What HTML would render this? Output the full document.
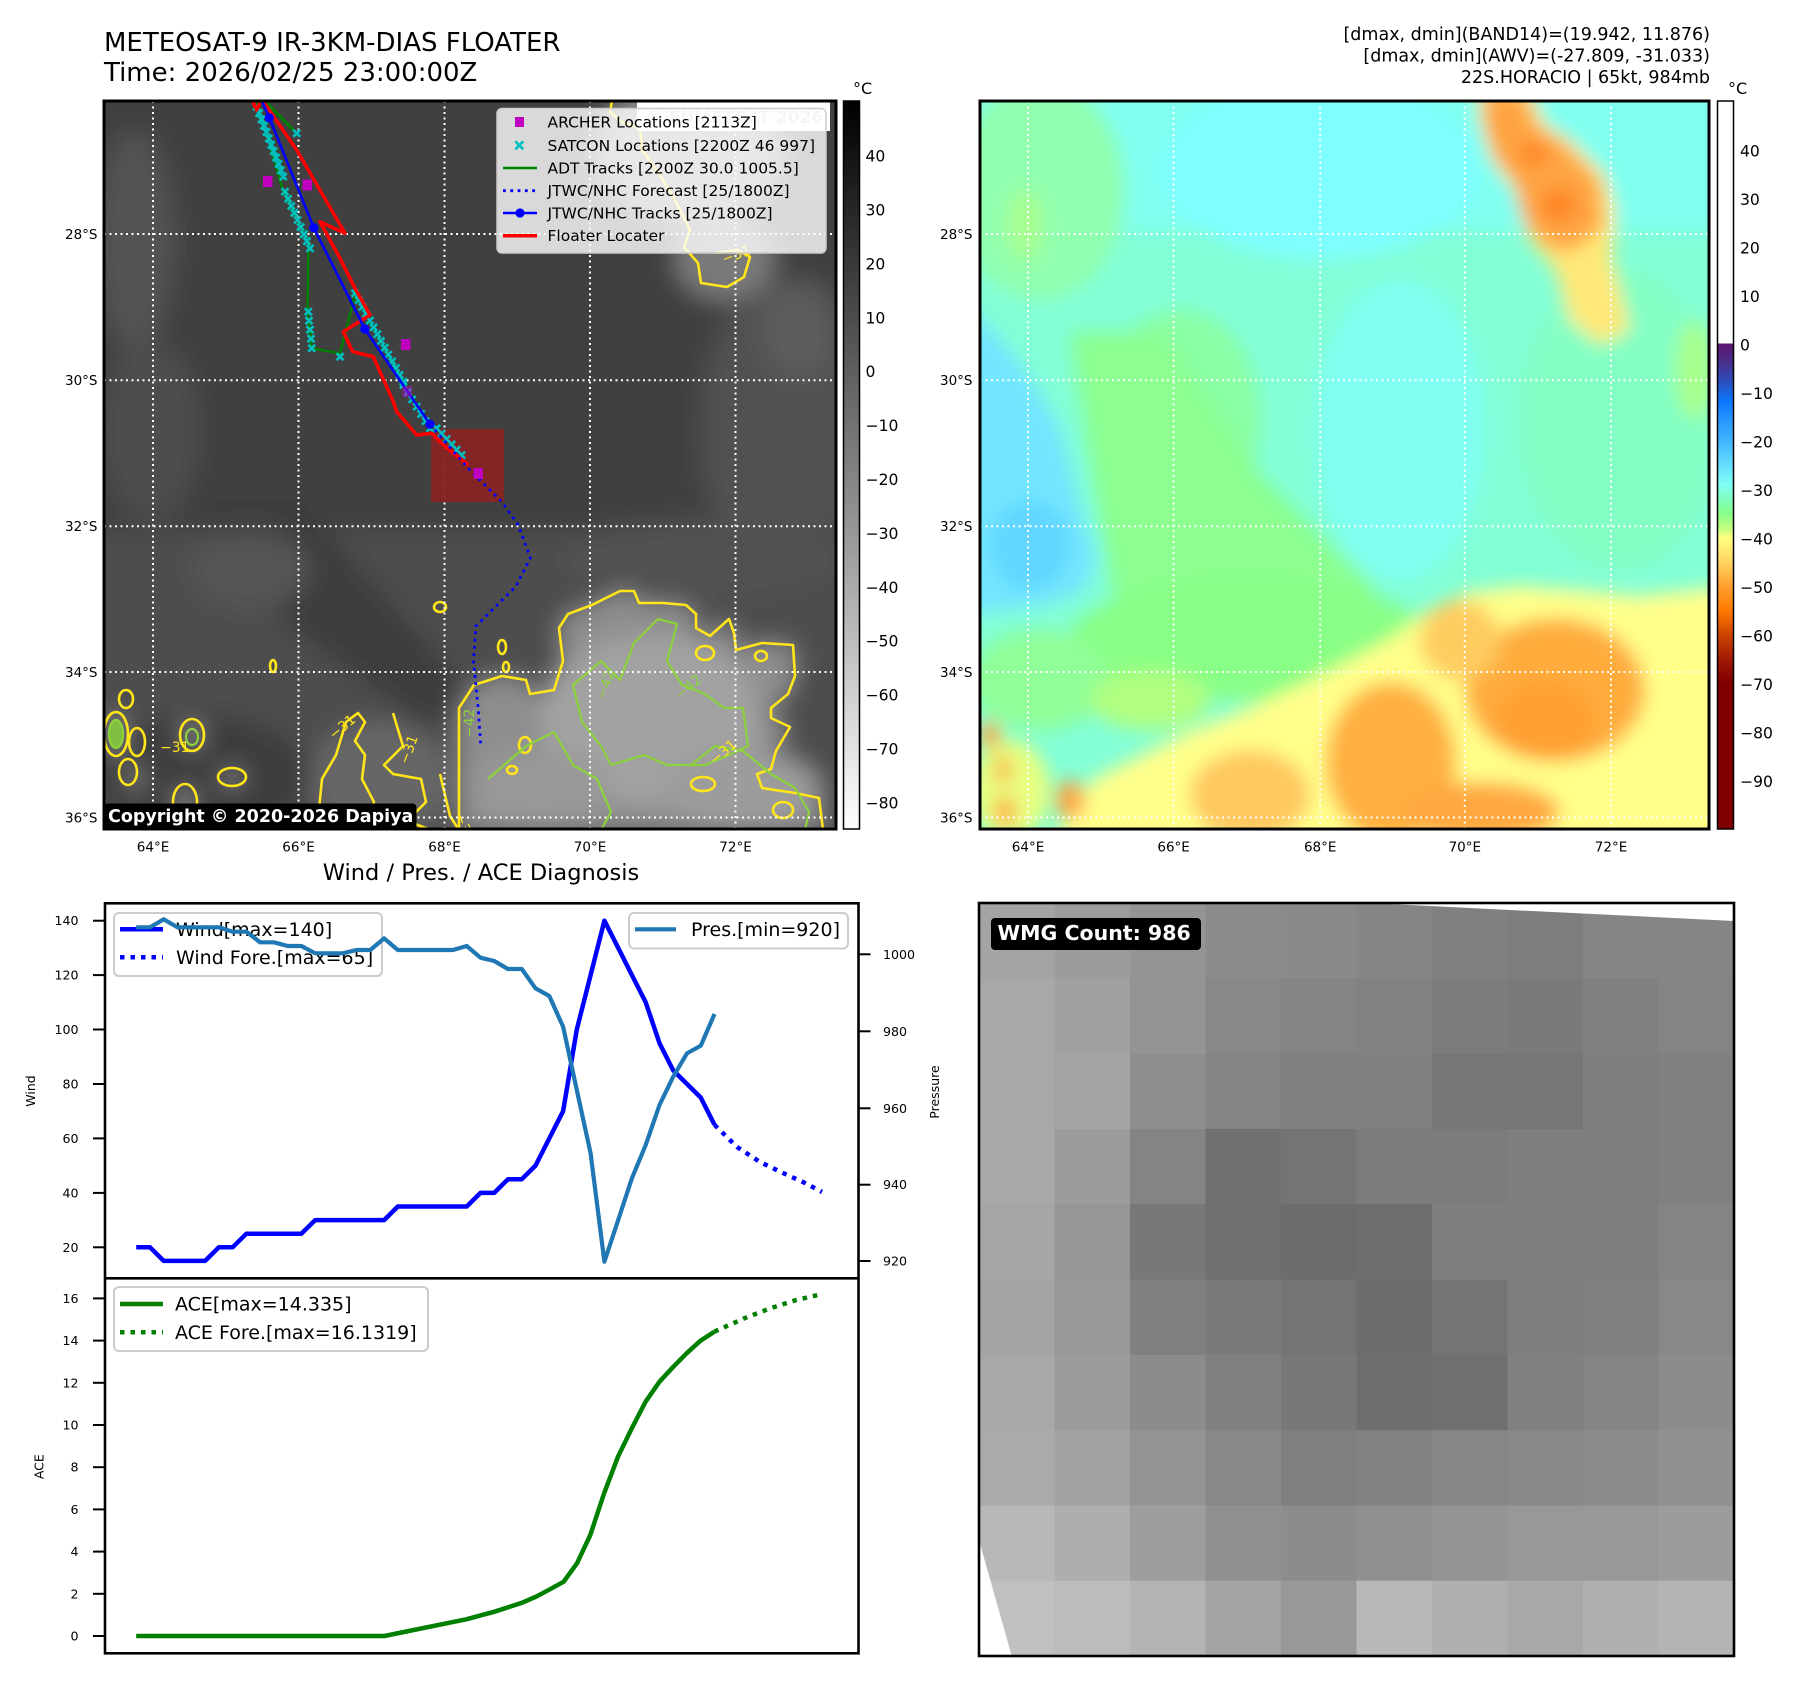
<!DOCTYPE html>
<html><head><meta charset="utf-8"><style>
html,body{margin:0;padding:0;background:#fff;}
svg{display:block;}
text{font-family:"DejaVu Sans","Liberation Sans",sans-serif;}
</style></head><body>
<svg width="1797" height="1690" viewBox="0 0 1797 1690" xmlns="http://www.w3.org/2000/svg">
<defs>
<clipPath id="cL"><rect x="104" y="101" width="732" height="728"/></clipPath>
<clipPath id="cR"><rect x="980" y="101" width="729" height="728"/></clipPath>
<clipPath id="cW"><rect x="979" y="903" width="755" height="753"/></clipPath>
<filter id="bl" filterUnits="userSpaceOnUse" x="0" y="0" width="1797" height="1690"><feGaussianBlur stdDeviation="12"/></filter>
<filter id="bl2" filterUnits="userSpaceOnUse" x="0" y="0" width="1797" height="1690"><feGaussianBlur stdDeviation="9"/></filter>
<linearGradient id="gGray" x1="0" y1="0" x2="0" y2="1"><stop offset="0" stop-color="#000"/><stop offset="1" stop-color="#fff"/></linearGradient>
<linearGradient id="gAwv" x1="0" y1="0" x2="0" y2="1">
<stop offset="0" stop-color="#fff"/><stop offset="0.3333" stop-color="#fff"/>
<stop offset="0.3334" stop-color="#5c1470"/><stop offset="0.36" stop-color="#48308c"/>
<stop offset="0.3867" stop-color="#2a50c0"/><stop offset="0.4133" stop-color="#0a78ff"/>
<stop offset="0.44" stop-color="#2a98ff"/><stop offset="0.4667" stop-color="#40b4ff"/>
<stop offset="0.5" stop-color="#66dcff"/><stop offset="0.5267" stop-color="#80fff4"/>
<stop offset="0.5467" stop-color="#80ffc0"/><stop offset="0.5667" stop-color="#86ff88"/>
<stop offset="0.5867" stop-color="#c0ff80"/><stop offset="0.6" stop-color="#ffff80"/>
<stop offset="0.6333" stop-color="#ffd460"/><stop offset="0.6667" stop-color="#ffa030"/>
<stop offset="0.7" stop-color="#ff7a00"/><stop offset="0.7333" stop-color="#cc4400"/>
<stop offset="0.7667" stop-color="#a01a06"/><stop offset="0.8" stop-color="#800000"/>
<stop offset="1" stop-color="#800000"/>
</linearGradient>
</defs>

<!-- Titles -->
<text x="104" y="51" font-size="26">METEOSAT-9 IR-3KM-DIAS FLOATER</text>
<text x="104" y="81" font-size="26">Time: 2026/02/25 23:00:00Z</text>
<text x="1710" y="40" font-size="17.5" text-anchor="end">[dmax, dmin](BAND14)=(19.942, 11.876)</text>
<text x="1710" y="61.5" font-size="17.5" text-anchor="end">[dmax, dmin](AWV)=(-27.809, -31.033)</text>
<text x="1710" y="83" font-size="17.5" text-anchor="end">22S.HORACIO | 65kt, 984mb</text>

<!-- ============ LEFT MAP (IR) ============ -->
<g clip-path="url(#cL)">
<rect x="104" y="101" width="732" height="728" fill="#464646"/>
<g filter="url(#bl)">
<rect x="60" y="60" width="820" height="470" fill="#414141"/>
<ellipse cx="135" cy="240" rx="40" ry="110" fill="#525252"/>
<ellipse cx="150" cy="430" rx="50" ry="90" fill="#4e4e4e"/>
<ellipse cx="780" cy="430" rx="80" ry="150" fill="#515151"/>
<ellipse cx="800" cy="330" rx="40" ry="50" fill="#5c5c5c"/>
<ellipse cx="690" cy="150" rx="95" ry="70" fill="#8a8a8a"/>
<ellipse cx="725" cy="260" rx="50" ry="40" fill="#7a7a7a"/>
<rect x="60" y="530" width="820" height="320" fill="#4e4e4e"/>
<polygon points="200,500 300,500 470,690 430,730 280,620" fill="#3d3d3d"/>
<ellipse cx="250" cy="570" rx="60" ry="40" fill="#545454"/>
<ellipse cx="200" cy="775" rx="110" ry="60" fill="#3c3c3c"/>
<ellipse cx="380" cy="780" rx="70" ry="60" fill="#666666"/>
<ellipse cx="700" cy="560" rx="140" ry="40" fill="#515151"/>
<path d="M459,830 L459,708 L474,685 L502,676 L526,680 L530,694 L554,690 L563,661 L559,628 L568,614 L592,605 L620,591 L634,591 L639,603 L663,603 L686,605 L696,614 L696,628 L710,636 L729,619 L734,633 L736,650 L762,643 L793,645 L795,676 L788,694 L771,708 L771,718 L790,727 L776,751 L771,769 L757,774 L762,788 L795,793 L819,798 L823,830 Z" fill="#8e8e8e"/>
<ellipse cx="650" cy="720" rx="110" ry="85" fill="#a2a2a2"/>
<ellipse cx="740" cy="790" rx="80" ry="40" fill="#9c9c9c"/>
<ellipse cx="540" cy="790" rx="70" ry="40" fill="#989898"/>
<ellipse cx="116" cy="734" rx="10" ry="20" fill="#8a8a8a"/>
<ellipse cx="135" cy="778" rx="8" ry="15" fill="#808080"/>
<ellipse cx="192" cy="735" rx="10" ry="15" fill="#858585"/>
<ellipse cx="232" cy="778" rx="13" ry="8" fill="#858585"/>
<ellipse cx="185" cy="805" rx="10" ry="18" fill="#858585"/>
</g>

<!-- contours -->
<g fill="none" stroke="#ffe51a" stroke-width="2.6" stroke-linejoin="round">
<path d="M459,830 L459,708 L474,685 L502,676 L526,680 L530,694 L554,690 L563,661 L559,628 L568,614 L592,605 L620,591 L634,591 L639,603 L663,603 L686,605 L696,614 L696,628 L710,636 L729,619 L734,633 L736,650 L762,643 L793,645 L795,676 L788,694 L771,708 L771,718 L790,727 L776,751 L771,769 L757,774 L762,788 L795,793 L819,798 L823,830"/>
<ellipse cx="440" cy="607" rx="6" ry="5"/>
<ellipse cx="502" cy="647" rx="4" ry="7"/>
<ellipse cx="506" cy="667" rx="3" ry="5"/>
<ellipse cx="273" cy="666" rx="3" ry="6"/>
<ellipse cx="705" cy="653" rx="9" ry="7"/>
<ellipse cx="761" cy="656" rx="6" ry="5"/>
<ellipse cx="116" cy="734" rx="12" ry="22"/>
<ellipse cx="137" cy="742" rx="8" ry="14"/>
<ellipse cx="128" cy="772" rx="9" ry="13"/>
<ellipse cx="192" cy="735" rx="12" ry="16"/>
<ellipse cx="232" cy="777" rx="14" ry="9"/>
<ellipse cx="185" cy="802" rx="12" ry="18"/>
<ellipse cx="150" cy="817" rx="10" ry="12"/>
<ellipse cx="126" cy="699" rx="7" ry="9"/>
<ellipse cx="703" cy="784" rx="12" ry="7"/>
<ellipse cx="783" cy="810" rx="10" ry="8"/>
<ellipse cx="525" cy="745" rx="6" ry="8"/>
<ellipse cx="512" cy="770" rx="5" ry="4"/>
<path d="M317,830 L322,779 L336,755 L346,722 L358,713 L365,722 L355,741 L365,755 L362,779 L374,802 L365,830"/>
<path d="M393,713 L403,746 L384,765 L393,774 L421,779 L426,802 L407,821 L431,830"/>
<path d="M440,774 L450,816 L459,830"/>
<path d="M612,101 L610,112 L622,122 L640,128 L642,150 L660,175 L675,200 L690,230 L684,247 L698,263 L701,283 L727,287 L744,277 L750,257 L738,250 L716,253"/>
</g>
<g fill="none" stroke="#8cd23c" stroke-width="2.2" stroke-linejoin="round">
<path d="M573,685 L601,661 L620,680 L634,643 L658,619 L677,624 L667,661 L682,685 L705,694 L724,708 L743,708 L748,746 L729,755 L705,765 L667,765 L644,755 L611,765 L601,746 L582,722 Z"/>
<path d="M488,779 L526,746 L554,732 L573,765 L597,779 L611,812 L601,830"/>
<path d="M691,765 L715,746 L743,751 L771,774 L795,788 L809,812 L805,830"/>
<ellipse cx="116" cy="734" rx="7" ry="14" fill="#7fbf3f"/>
<ellipse cx="192" cy="737" rx="6" ry="8"/>
</g>
<g font-size="14" fill="#ffe51a">
<text x="334" y="740" transform="rotate(-40 334 740)">−31</text>
<text x="160" y="752">−31</text>
<text x="408" y="765" transform="rotate(-70 408 765)">−31</text>
<text x="715" y="765" transform="rotate(-40 715 765)">−31</text>
<text x="724" y="264" transform="rotate(-20 724 264)">−31</text>
<text x="455" y="815" transform="rotate(70 455 815)">−31</text>
</g>
<g font-size="14" fill="#8cd23c">
<text x="474" y="738" transform="rotate(-90 474 738)">−42</text>
<text x="605" y="700" transform="rotate(-70 605 700)">−42</text>
<text x="680" y="700" transform="rotate(-40 680 700)">−42</text>
</g>

<!-- gridlines -->
<g stroke="#fff" stroke-width="2" stroke-dasharray="2 3.5">
<line x1="153" y1="101" x2="153" y2="829"/><line x1="298.5" y1="101" x2="298.5" y2="829"/>
<line x1="444.5" y1="101" x2="444.5" y2="829"/><line x1="590" y1="101" x2="590" y2="829"/>
<line x1="735.5" y1="101" x2="735.5" y2="829"/>
<line x1="104" y1="234" x2="836" y2="234"/><line x1="104" y1="380.3" x2="836" y2="380.3"/>
<line x1="104" y1="526.2" x2="836" y2="526.2"/><line x1="104" y1="672" x2="836" y2="672"/>
<line x1="104" y1="817.5" x2="836" y2="817.5"/>
</g>

<!-- floater rect -->
<rect x="431" y="429" width="73" height="73" fill="#882424" opacity="0.95"/>

<!-- tracks -->
<g fill="none" stroke-linejoin="round">
<path d="M263,99 L295,131.7" stroke="#008000" stroke-width="3"/>
<path d="M257,101 L283.3,191.7 L308.3,241.7 L308.3,251.7 L307.5,311.7 L311.7,348.3 L340,353.3 L346,330 L355,295 L403.3,381.7 L432,430" stroke="#008000" stroke-width="2.5"/>
</g>
<path fill="none" stroke="#00bfbf" stroke-width="2.6" d="
M253.2,103.2l7,7m0,-7l-7,7 M255.6,109.6l7,7m0,-7l-7,7 M258,115.9l7,7m0,-7l-7,7 M260.5,122.3l7,7m0,-7l-7,7
M262.9,128.6l7,7m0,-7l-7,7 M265.3,135l7,7m0,-7l-7,7 M267.7,141.4l7,7m0,-7l-7,7 M270.1,147.7l7,7m0,-7l-7,7
M272.6,154.1l7,7m0,-7l-7,7 M275,160.4l7,7m0,-7l-7,7 M277.4,166.8l7,7m0,-7l-7,7 M279.8,173.2l7,7m0,-7l-7,7
M281.5,188.2l7,7m0,-7l-7,7 M284.6,195.3l7,7m0,-7l-7,7 M287.8,202.4l7,7m0,-7l-7,7 M290.9,209.4l7,7m0,-7l-7,7
M294,216.5l7,7m0,-7l-7,7 M297.1,223.6l7,7m0,-7l-7,7 M300.3,230.7l7,7m0,-7l-7,7 M303.4,237.7l7,7m0,-7l-7,7
M306.5,244.8l7,7m0,-7l-7,7
M304.8,308.2l7,7m0,-7l-7,7 M305.5,317.2l7,7m0,-7l-7,7 M306.5,326.2l7,7m0,-7l-7,7 M307.5,335.2l7,7m0,-7l-7,7
M308.2,344.8l7,7m0,-7l-7,7 M336.5,353.2l7,7m0,-7l-7,7 M293.2,129.8l7,7m0,-7l-7,7
M351.5,289.8l7,7m0,-7l-7,7 M355.2,296.6l7,7m0,-7l-7,7 M358.9,303.4l7,7m0,-7l-7,7 M362.6,310.2l7,7m0,-7l-7,7
M366.4,317l7,7m0,-7l-7,7 M370.1,323.8l7,7m0,-7l-7,7 M373.8,330.6l7,7m0,-7l-7,7 M377.5,337.4l7,7m0,-7l-7,7
M381.2,344.2l7,7m0,-7l-7,7 M384.9,351l7,7m0,-7l-7,7 M388.7,357.8l7,7m0,-7l-7,7 M392.4,364.6l7,7m0,-7l-7,7
M396.1,371.4l7,7m0,-7l-7,7 M399.8,378.2l7,7m0,-7l-7,7
M399.8,381.5l7,7m0,-7l-7,7 M404.3,388.7l7,7m0,-7l-7,7 M408.7,395.9l7,7m0,-7l-7,7 M413.2,403.2l7,7m0,-7l-7,7
M417.6,410.4l7,7m0,-7l-7,7 M422.1,417.6l7,7m0,-7l-7,7 M426.5,424.8l7,7m0,-7l-7,7
M433.2,424.8l7,7m0,-7l-7,7 M438.2,430.1l7,7m0,-7l-7,7 M443.2,435.5l7,7m0,-7l-7,7 M448.2,440.8l7,7m0,-7l-7,7
M453.2,446.2l7,7m0,-7l-7,7 M458.2,451.5l7,7m0,-7l-7,7"/>
<g fill="none" stroke-linejoin="round">
<path d="M253,102 L256.7,110 L260,103 M263,101 L296.7,150 L345,233.3 L320,221.7 L340,258.3 L355,288.3 L370,315 L343.3,331.7 L352.7,351.7 L373.3,356.7 L393.3,401.7 L396.7,411.7 L416.7,435 L431.7,433.3 L443.3,445 L468.3,465" stroke="#ff0000" stroke-width="3.5"/>
<path d="M262,101 L269.3,117.7 L313.7,227.6 L364.8,329 L430,424.3" stroke="#0000ff" stroke-width="2.6"/>
<path d="M430,424.3 L468.8,469 L501.9,501.8 L518.4,525.2 L530.3,558 L516,586.3 L492.4,609.7 L475.9,626.2 L473.5,661.4 L478.2,708.3 L480.6,743.5" stroke="#0000ff" stroke-width="2.8" stroke-dasharray="2.8 4.5"/>
</g>
<g fill="#0000ff"><circle cx="269.3" cy="117.7" r="4.6"/><circle cx="313.7" cy="227.6" r="4.6"/><circle cx="364.8" cy="329" r="4.6"/><circle cx="430" cy="424.3" r="4.6"/></g>
<g fill="#bf00bf">
<rect x="263" y="176" width="9.5" height="11"/><rect x="302.5" y="179.5" width="9.5" height="11"/>
<rect x="401" y="339" width="9.5" height="11"/><rect x="473.5" y="468" width="9.5" height="11"/>
<rect x="402.5" y="386" width="9.5" height="11" opacity="0.5"/>
</g>

<!-- watermark -->
<rect x="637" y="102" width="193" height="29" fill="#fff"/>
<text x="646" y="123" font-size="17" font-weight="bold" fill="#d0d0d0">© EUMETSAT 2026</text>

<!-- legend -->
<rect x="497" y="108.5" width="329" height="144.5" rx="5" fill="#fff" fill-opacity="0.8" stroke="#cccccc" stroke-width="1.5"/>
<rect x="515" y="117" width="9" height="10" fill="#bf00bf"/>
<path d="M515.3,141.3l8,8m0,-8l-8,8" stroke="#00bfbf" stroke-width="2.6"/>
<line x1="503" y1="168" x2="537" y2="168" stroke="#008000" stroke-width="2.6"/>
<line x1="503" y1="190.7" x2="537" y2="190.7" stroke="#0000ff" stroke-width="2.8" stroke-dasharray="2.8 4.5"/>
<line x1="503" y1="213" x2="537" y2="213" stroke="#0000ff" stroke-width="2.6"/>
<circle cx="520" cy="213" r="4.6" fill="#0000ff"/>
<line x1="503" y1="235.7" x2="537" y2="235.7" stroke="#ff0000" stroke-width="3.5"/>
<g font-size="15.5" fill="#000">
<text x="547.5" y="127.5">ARCHER Locations [2113Z]</text>
<text x="547.5" y="150.8">SATCON Locations [2200Z 46 997]</text>
<text x="547.5" y="173.5">ADT Tracks [2200Z 30.0 1005.5]</text>
<text x="547.5" y="196.2">JTWC/NHC Forecast [25/1800Z]</text>
<text x="547.5" y="218.5">JTWC/NHC Tracks [25/1800Z]</text>
<text x="547.5" y="241.2">Floater Locater</text>
</g>
</g>
<!-- copyright -->
<rect x="104" y="803.5" width="312.5" height="26.5" rx="4" fill="#000"/>
<text x="108" y="822" font-size="17.5" font-weight="bold" fill="#fff">Copyright © 2020-2026 Dapiya</text>
<rect x="104" y="101" width="732" height="728" fill="none" stroke="#000" stroke-width="3"/>

<!-- left map labels -->
<g font-size="13.5" fill="#000" text-anchor="end">
<text x="97.5" y="238.8">28°S</text><text x="97.5" y="385.1">30°S</text><text x="97.5" y="531">32°S</text>
<text x="97.5" y="676.8">34°S</text><text x="97.5" y="822.3">36°S</text>
</g>
<g font-size="13.5" fill="#000" text-anchor="middle">
<text x="153" y="851.5">64°E</text><text x="298.5" y="851.5">66°E</text><text x="444.5" y="851.5">68°E</text>
<text x="590" y="851.5">70°E</text><text x="735.5" y="851.5">72°E</text>
</g>

<!-- left colorbar -->
<rect x="843.5" y="101" width="16" height="728" fill="url(#gGray)" stroke="#000" stroke-width="1.5"/>
<text x="853" y="94" font-size="16">°C</text>
<g font-size="15.6" fill="#000">
<text x="865.5" y="161.6">40</text><text x="865.5" y="215.5">30</text><text x="865.5" y="269.4">20</text>
<text x="865.5" y="323.3">10</text><text x="865.5" y="377.2">0</text><text x="865.5" y="431.1">−10</text>
<text x="865.5" y="485">−20</text><text x="865.5" y="538.9">−30</text><text x="865.5" y="592.8">−40</text>
<text x="865.5" y="646.7">−50</text><text x="865.5" y="700.6">−60</text><text x="865.5" y="754.5">−70</text>
<text x="865.5" y="808.4">−80</text>
</g>

<!-- ============ RIGHT MAP (AWV) ============ -->
<g clip-path="url(#cR)">
<rect x="980" y="101" width="729" height="728" fill="#82ffd6"/>
<g filter="url(#bl2)">
<rect x="960" y="80" width="770" height="150" fill="#80fff0"/>
<ellipse cx="1040" cy="190" rx="85" ry="110" fill="#90ffae"/>
<ellipse cx="1320" cy="170" rx="160" ry="90" fill="#7fffff"/>
<ellipse cx="1025" cy="225" rx="18" ry="35" fill="#a8ff90"/>
<polygon points="960,300 1003,342 1032,380 1060,427 1084,520 1098,558 1084,591 1046,605 960,615" fill="#72e6ff"/>
<ellipse cx="1030" cy="545" rx="40" ry="45" fill="#62d6ff"/>
<ellipse cx="1180" cy="420" rx="80" ry="110" fill="#8affa4"/>
<polygon points="1070,333 1164,333 1259,474 1377,591 1306,638 1117,614 1093,474" fill="#8cff90"/>
<ellipse cx="1400" cy="430" rx="85" ry="150" fill="#80fff2"/>
<ellipse cx="1620" cy="420" rx="100" ry="150" fill="#84ffc4"/>
<ellipse cx="1695" cy="370" rx="20" ry="50" fill="#a8ff8c"/>
<ellipse cx="1250" cy="640" rx="180" ry="60" fill="#88ff86"/>
<ellipse cx="1040" cy="680" rx="70" ry="50" fill="#90ff98"/>
<ellipse cx="1150" cy="700" rx="60" ry="30" fill="#b0ff80"/>
<polygon points="1046,850 1093,779 1188,732 1259,704 1330,671 1391,638 1429,610 1472,591 1519,586 1590,591 1637,596 1730,586 1730,850" fill="#ffff8a"/>
<ellipse cx="1010" cy="790" rx="40" ry="50" fill="#e8ff80"/>
<ellipse cx="1391" cy="762" rx="65" ry="80" fill="#ffb040"/>
<ellipse cx="1555" cy="690" rx="90" ry="72" fill="#ffac3c"/>
<ellipse cx="1545" cy="720" rx="50" ry="40" fill="#ffa030"/>
<ellipse cx="1250" cy="795" rx="60" ry="45" fill="#ffc860"/>
<ellipse cx="1480" cy="812" rx="80" ry="30" fill="#ffa840"/>
<ellipse cx="1460" cy="640" rx="40" ry="40" fill="#ffcc60"/>
<ellipse cx="990" cy="735" rx="10" ry="14" fill="#ffa040"/>
<ellipse cx="1003" cy="770" rx="7" ry="15" fill="#ffa040"/>
<ellipse cx="1005" cy="812" rx="10" ry="15" fill="#ffa040"/>
<ellipse cx="1070" cy="800" rx="14" ry="20" fill="#ffa040"/>
<polygon points="1478,85 1528,85 1545,125 1570,140 1605,175 1615,210 1612,260 1630,330 1600,345 1570,320 1555,270 1530,240 1515,190 1492,160 1480,120" fill="#ffe878"/>
<polygon points="1483,90 1523,90 1537,126 1561,140 1599,180 1603,225 1590,239 1566,253 1542,243 1523,220 1514,182 1495,159 1485,126" fill="#ffa442"/>
<ellipse cx="1533" cy="154" rx="14" ry="12" fill="#ff8424"/>
<ellipse cx="1559" cy="205" rx="18" ry="16" fill="#ff8424"/>
<ellipse cx="1500" cy="130" rx="10" ry="12" fill="#ffa038"/>
</g>
<g stroke="#fff" stroke-width="2" stroke-dasharray="2 3.5">
<line x1="1028" y1="101" x2="1028" y2="829"/><line x1="1173.6" y1="101" x2="1173.6" y2="829"/>
<line x1="1320.2" y1="101" x2="1320.2" y2="829"/><line x1="1464.8" y1="101" x2="1464.8" y2="829"/>
<line x1="1611" y1="101" x2="1611" y2="829"/>
<line x1="980" y1="234" x2="1709" y2="234"/><line x1="980" y1="380.3" x2="1709" y2="380.3"/>
<line x1="980" y1="526.2" x2="1709" y2="526.2"/><line x1="980" y1="672" x2="1709" y2="672"/>
<line x1="980" y1="817.5" x2="1709" y2="817.5"/>
</g>
</g>
<rect x="980" y="101" width="729" height="728" fill="none" stroke="#000" stroke-width="3"/>
<g font-size="13.5" fill="#000" text-anchor="end">
<text x="972.5" y="238.8">28°S</text><text x="972.5" y="385.1">30°S</text><text x="972.5" y="531">32°S</text>
<text x="972.5" y="676.8">34°S</text><text x="972.5" y="822.3">36°S</text>
</g>
<g font-size="13.5" fill="#000" text-anchor="middle">
<text x="1028" y="851.5">64°E</text><text x="1173.6" y="851.5">66°E</text><text x="1320.2" y="851.5">68°E</text>
<text x="1464.8" y="851.5">70°E</text><text x="1611" y="851.5">72°E</text>
</g>
<rect x="1717.5" y="101" width="16" height="728" fill="url(#gAwv)" stroke="#000" stroke-width="1.5"/>
<text x="1728" y="94" font-size="16">°C</text>
<g font-size="15.6" fill="#000">
<text x="1740" y="156.6">40</text><text x="1740" y="205.1">30</text><text x="1740" y="253.6">20</text>
<text x="1740" y="302.1">10</text><text x="1740" y="350.6">0</text><text x="1740" y="399.1">−10</text>
<text x="1740" y="447.6">−20</text><text x="1740" y="496.1">−30</text><text x="1740" y="544.6">−40</text>
<text x="1740" y="593.1">−50</text><text x="1740" y="641.6">−60</text><text x="1740" y="690.1">−70</text>
<text x="1740" y="738.6">−80</text><text x="1740" y="787.1">−90</text>
</g>

<!-- ============ WIND / PRES / ACE ============ -->
<text x="481" y="880" font-size="22.5" text-anchor="middle">Wind / Pres. / ACE Diagnosis</text>

<!-- wind legend -->
<rect x="114" y="913" width="268" height="63" rx="5" fill="#fff" fill-opacity="0.8" stroke="#cccccc" stroke-width="2"/>
<line x1="120" y1="929.3" x2="163" y2="929.3" stroke="#0000ff" stroke-width="4.5"/>
<line x1="120" y1="957.3" x2="163" y2="957.3" stroke="#0000ff" stroke-width="4.5" stroke-dasharray="4.5 6"/>
<text x="176" y="936" font-size="19">Wind[max=140]</text>
<text x="176" y="964" font-size="19">Wind Fore.[max=65]</text>

<!-- wind lines -->
<g fill="none" stroke-linejoin="round">
<path d="M136.2,1247.3 L150,1247.3 L163.7,1260.9 L205.1,1260.9 L218.8,1247.3 L232.6,1247.3 L246.4,1233.7 L301.4,1233.7 L315.2,1220.1 L384.1,1220.1 L397.8,1206.5 L466.7,1206.5 L480.5,1192.9 L494.2,1192.9 L508,1179.2 L521.8,1179.2 L535.5,1165.6 L549.3,1138.4 L563.1,1111.2 L576.8,1029.5 L590.6,975.1 L604.4,920.7 L618.2,947.9 L631.9,975.1 L645.7,1002.3 L659.5,1043.2 L673.2,1070.4 L687,1084 L700.8,1097.6 L714.5,1124.8" stroke="#0000ff" stroke-width="4.5"/>
<path d="M714.5,1124.8 L737,1147 L760,1162 L783,1173 L805,1183 L822,1192" stroke="#0000ff" stroke-width="4.5" stroke-dasharray="4.5 6"/>
<path d="M136.2,927.3 L150,927.3 L163.7,919.3 L177.5,927.3 L218.8,927.3 L232.6,931.7 L246.4,931.7 L260.1,942.3 L273.9,942.3 L287.7,946 L301.4,946 L315.2,953.3 L342.8,953.3 L356.5,950 L370.3,950 L384.1,938.3 L397.8,950 L452.9,950 L466.7,946 L480.5,957.7 L494.2,961 L508,969 L521.8,969 L535.5,988.3 L549.3,996 L563.1,1026.7 L576.8,1090 L590.6,1153.3 L604.4,1261.7 L618.2,1220 L631.9,1178.3 L645.7,1145 L659.5,1105 L673.2,1076.7 L687,1053.3 L700.8,1045.7 L714.5,1014" stroke="#1f77b4" stroke-width="4.2"/>
</g>

<!-- pres legend -->
<rect x="629" y="913" width="219" height="35.5" rx="5" fill="#fff" fill-opacity="0.8" stroke="#cccccc" stroke-width="2"/>
<line x1="635" y1="929.3" x2="676" y2="929.3" stroke="#1f77b4" stroke-width="4.2"/>
<text x="691" y="936" font-size="19">Pres.[min=920]</text>

<!-- ACE legend -->
<rect x="114" y="1287" width="314" height="64" rx="5" fill="#fff" fill-opacity="0.8" stroke="#cccccc" stroke-width="2"/>
<line x1="120" y1="1304" x2="163" y2="1304" stroke="#008000" stroke-width="4.5"/>
<line x1="120" y1="1332.3" x2="163" y2="1332.3" stroke="#008000" stroke-width="4.5" stroke-dasharray="4.5 6"/>
<text x="175" y="1310.7" font-size="19">ACE[max=14.335]</text>
<text x="175" y="1339" font-size="19">ACE Fore.[max=16.1319]</text>

<g fill="none" stroke-linejoin="round">
<path d="M136.2,1636 L384.3,1636 L466.2,1619.3 L494.5,1611.7 L522.2,1602.7 L536,1596.7 L549.9,1589.3 L563.7,1581.7 L577,1563.3 L590.3,1535 L604.1,1493.3 L618,1456.7 L631.8,1428.3 L645.6,1401.7 L659.5,1381.7 L672.8,1367.3 L686.6,1353.3 L700.5,1340.7 L714.3,1331.7" stroke="#008000" stroke-width="4.5"/>
<path d="M714.3,1331.7 L744.3,1318.3 L770.3,1308.3 L796.2,1300 L822.2,1294" stroke="#008000" stroke-width="4.5" stroke-dasharray="4.5 6"/>
</g>

<!-- axes frames -->
<rect x="105" y="903.3" width="753.5" height="750" fill="none" stroke="#000" stroke-width="2.6"/>
<line x1="105" y1="1278.3" x2="858.5" y2="1278.3" stroke="#000" stroke-width="2.6"/>

<!-- ticks -->
<g stroke="#000" stroke-width="2">
<line x1="93" y1="1247.3" x2="105" y2="1247.3"/><line x1="93" y1="1192.9" x2="105" y2="1192.9"/>
<line x1="93" y1="1138.4" x2="105" y2="1138.4"/><line x1="93" y1="1084" x2="105" y2="1084"/>
<line x1="93" y1="1029.5" x2="105" y2="1029.5"/><line x1="93" y1="975.1" x2="105" y2="975.1"/>
<line x1="93" y1="920.7" x2="105" y2="920.7"/>
<line x1="858.5" y1="954.3" x2="870.5" y2="954.3"/><line x1="858.5" y1="1031.3" x2="870.5" y2="1031.3"/>
<line x1="858.5" y1="1108.3" x2="870.5" y2="1108.3"/><line x1="858.5" y1="1184.7" x2="870.5" y2="1184.7"/>
<line x1="858.5" y1="1261" x2="870.5" y2="1261"/>
<line x1="93" y1="1636" x2="105" y2="1636"/><line x1="93" y1="1593.8" x2="105" y2="1593.8"/>
<line x1="93" y1="1551.6" x2="105" y2="1551.6"/><line x1="93" y1="1509.4" x2="105" y2="1509.4"/>
<line x1="93" y1="1467.2" x2="105" y2="1467.2"/><line x1="93" y1="1425" x2="105" y2="1425"/>
<line x1="93" y1="1382.8" x2="105" y2="1382.8"/><line x1="93" y1="1340.6" x2="105" y2="1340.6"/>
<line x1="93" y1="1298.4" x2="105" y2="1298.4"/>
</g>
<g font-size="12.6" fill="#000" text-anchor="end">
<text x="78.5" y="1251.8">20</text><text x="78.5" y="1197.4">40</text><text x="78.5" y="1142.9">60</text>
<text x="78.5" y="1088.5">80</text><text x="78.5" y="1034">100</text><text x="78.5" y="979.6">120</text>
<text x="78.5" y="925.2">140</text>
<text x="78.5" y="1640.5">0</text><text x="78.5" y="1598.3">2</text><text x="78.5" y="1556.1">4</text>
<text x="78.5" y="1513.9">6</text><text x="78.5" y="1471.7">8</text><text x="78.5" y="1429.5">10</text>
<text x="78.5" y="1387.3">12</text><text x="78.5" y="1345.1">14</text><text x="78.5" y="1302.9">16</text>
</g>
<g font-size="12.6" fill="#000">
<text x="883" y="958.8">1000</text><text x="883" y="1035.8">980</text><text x="883" y="1112.8">960</text>
<text x="883" y="1189.2">940</text><text x="883" y="1265.5">920</text>
</g>
<text x="0" y="0" font-size="12.5" text-anchor="middle" transform="translate(35 1091) rotate(-90)">Wind</text>
<text x="0" y="0" font-size="12.5" text-anchor="middle" transform="translate(43.5 1466.7) rotate(-90)">ACE</text>
<text x="0" y="0" font-size="12.5" text-anchor="middle" transform="translate(939 1092) rotate(-90)">Pressure</text>

<!-- ============ WMG PANEL ============ -->
<g clip-path="url(#cW)">
<rect x="979" y="903" width="755" height="753" fill="#888"/>
<g>
<rect x="979" y="903" width="76" height="76" fill="#a4a4a4"/><rect x="1054.5" y="903" width="76" height="76" fill="#9c9c9c"/><rect x="1130" y="903" width="76" height="76" fill="#949494"/><rect x="1205.5" y="903" width="76" height="76" fill="#8c8c8c"/><rect x="1281" y="903" width="76" height="76" fill="#8a8a8a"/><rect x="1356.5" y="903" width="76" height="76" fill="#858585"/><rect x="1432" y="903" width="76" height="76" fill="#808080"/><rect x="1507.5" y="903" width="76" height="76" fill="#7e7e7e"/><rect x="1583" y="903" width="76" height="76" fill="#858585"/><rect x="1658.5" y="903" width="76" height="76" fill="#858585"/>
<rect x="979" y="978.3" width="76" height="76" fill="#a8a8a8"/><rect x="1054.5" y="978.3" width="76" height="76" fill="#a0a0a0"/><rect x="1130" y="978.3" width="76" height="76" fill="#949494"/><rect x="1205.5" y="978.3" width="76" height="76" fill="#888888"/><rect x="1281" y="978.3" width="76" height="76" fill="#848484"/><rect x="1356.5" y="978.3" width="76" height="76" fill="#828282"/><rect x="1432" y="978.3" width="76" height="76" fill="#7c7c7c"/><rect x="1507.5" y="978.3" width="76" height="76" fill="#7a7a7a"/><rect x="1583" y="978.3" width="76" height="76" fill="#808080"/><rect x="1658.5" y="978.3" width="76" height="76" fill="#848484"/>
<rect x="979" y="1053.6" width="76" height="76" fill="#a8a8a8"/><rect x="1054.5" y="1053.6" width="76" height="76" fill="#a4a4a4"/><rect x="1130" y="1053.6" width="76" height="76" fill="#8e8e8e"/><rect x="1205.5" y="1053.6" width="76" height="76" fill="#848484"/><rect x="1281" y="1053.6" width="76" height="76" fill="#808080"/><rect x="1356.5" y="1053.6" width="76" height="76" fill="#808080"/><rect x="1432" y="1053.6" width="76" height="76" fill="#767676"/><rect x="1507.5" y="1053.6" width="76" height="76" fill="#767676"/><rect x="1583" y="1053.6" width="76" height="76" fill="#7e7e7e"/><rect x="1658.5" y="1053.6" width="76" height="76" fill="#808080"/>
<rect x="979" y="1128.9" width="76" height="76" fill="#a8a8a8"/><rect x="1054.5" y="1128.9" width="76" height="76" fill="#9c9c9c"/><rect x="1130" y="1128.9" width="76" height="76" fill="#848484"/><rect x="1205.5" y="1128.9" width="76" height="76" fill="#707070"/><rect x="1281" y="1128.9" width="76" height="76" fill="#747474"/><rect x="1356.5" y="1128.9" width="76" height="76" fill="#7c7c7c"/><rect x="1432" y="1128.9" width="76" height="76" fill="#7c7c7c"/><rect x="1507.5" y="1128.9" width="76" height="76" fill="#7e7e7e"/><rect x="1583" y="1128.9" width="76" height="76" fill="#7e7e7e"/><rect x="1658.5" y="1128.9" width="76" height="76" fill="#808080"/>
<rect x="979" y="1204.2" width="76" height="76" fill="#a6a6a6"/><rect x="1054.5" y="1204.2" width="76" height="76" fill="#969696"/><rect x="1130" y="1204.2" width="76" height="76" fill="#787878"/><rect x="1205.5" y="1204.2" width="76" height="76" fill="#707070"/><rect x="1281" y="1204.2" width="76" height="76" fill="#6c6c6c"/><rect x="1356.5" y="1204.2" width="76" height="76" fill="#6e6e6e"/><rect x="1432" y="1204.2" width="76" height="76" fill="#7e7e7e"/><rect x="1507.5" y="1204.2" width="76" height="76" fill="#7e7e7e"/><rect x="1583" y="1204.2" width="76" height="76" fill="#7e7e7e"/><rect x="1658.5" y="1204.2" width="76" height="76" fill="#848484"/>
<rect x="979" y="1279.5" width="76" height="76" fill="#a4a4a4"/><rect x="1054.5" y="1279.5" width="76" height="76" fill="#989898"/><rect x="1130" y="1279.5" width="76" height="76" fill="#808080"/><rect x="1205.5" y="1279.5" width="76" height="76" fill="#7a7a7a"/><rect x="1281" y="1279.5" width="76" height="76" fill="#747474"/><rect x="1356.5" y="1279.5" width="76" height="76" fill="#6c6c6c"/><rect x="1432" y="1279.5" width="76" height="76" fill="#747474"/><rect x="1507.5" y="1279.5" width="76" height="76" fill="#7e7e7e"/><rect x="1583" y="1279.5" width="76" height="76" fill="#808080"/><rect x="1658.5" y="1279.5" width="76" height="76" fill="#888888"/>
<rect x="979" y="1354.8" width="76" height="76" fill="#a8a8a8"/><rect x="1054.5" y="1354.8" width="76" height="76" fill="#9c9c9c"/><rect x="1130" y="1354.8" width="76" height="76" fill="#8c8c8c"/><rect x="1205.5" y="1354.8" width="76" height="76" fill="#808080"/><rect x="1281" y="1354.8" width="76" height="76" fill="#787878"/><rect x="1356.5" y="1354.8" width="76" height="76" fill="#6e6e6e"/><rect x="1432" y="1354.8" width="76" height="76" fill="#707070"/><rect x="1507.5" y="1354.8" width="76" height="76" fill="#808080"/><rect x="1583" y="1354.8" width="76" height="76" fill="#848484"/><rect x="1658.5" y="1354.8" width="76" height="76" fill="#8c8c8c"/>
<rect x="979" y="1430.1" width="76" height="76" fill="#aaaaaa"/><rect x="1054.5" y="1430.1" width="76" height="76" fill="#a2a2a2"/><rect x="1130" y="1430.1" width="76" height="76" fill="#949494"/><rect x="1205.5" y="1430.1" width="76" height="76" fill="#888888"/><rect x="1281" y="1430.1" width="76" height="76" fill="#808080"/><rect x="1356.5" y="1430.1" width="76" height="76" fill="#828282"/><rect x="1432" y="1430.1" width="76" height="76" fill="#868686"/><rect x="1507.5" y="1430.1" width="76" height="76" fill="#888888"/><rect x="1583" y="1430.1" width="76" height="76" fill="#8c8c8c"/><rect x="1658.5" y="1430.1" width="76" height="76" fill="#909090"/>
<rect x="979" y="1505.4" width="76" height="76" fill="#b8b8b8"/><rect x="1054.5" y="1505.4" width="76" height="76" fill="#aeaeae"/><rect x="1130" y="1505.4" width="76" height="76" fill="#9e9e9e"/><rect x="1205.5" y="1505.4" width="76" height="76" fill="#909090"/><rect x="1281" y="1505.4" width="76" height="76" fill="#8c8c8c"/><rect x="1356.5" y="1505.4" width="76" height="76" fill="#909090"/><rect x="1432" y="1505.4" width="76" height="76" fill="#949494"/><rect x="1507.5" y="1505.4" width="76" height="76" fill="#989898"/><rect x="1583" y="1505.4" width="76" height="76" fill="#989898"/><rect x="1658.5" y="1505.4" width="76" height="76" fill="#9c9c9c"/>
<rect x="979" y="1580.7" width="76" height="76" fill="#c0c0c0"/><rect x="1054.5" y="1580.7" width="76" height="76" fill="#bcbcbc"/><rect x="1130" y="1580.7" width="76" height="76" fill="#b4b4b4"/><rect x="1205.5" y="1580.7" width="76" height="76" fill="#a4a4a4"/><rect x="1281" y="1580.7" width="76" height="76" fill="#989898"/><rect x="1356.5" y="1580.7" width="76" height="76" fill="#b8b8b8"/><rect x="1432" y="1580.7" width="76" height="76" fill="#b0b0b0"/><rect x="1507.5" y="1580.7" width="76" height="76" fill="#a8a8a8"/><rect x="1583" y="1580.7" width="76" height="76" fill="#b0b0b0"/><rect x="1658.5" y="1580.7" width="76" height="76" fill="#b4b4b4"/>
</g>
<polygon points="1368,903 1735,903 1735,921" fill="#fff"/>
<polygon points="979,1540 979,1657 1012,1657" fill="#fff"/>
</g>
<rect x="979" y="903" width="755" height="753" fill="none" stroke="#000" stroke-width="2.6"/>
<rect x="991" y="918" width="210" height="32" rx="4" fill="#000"/>
<text x="997.5" y="940" font-size="20.5" font-weight="bold" fill="#fff">WMG Count: 986</text>
</svg>
</body></html>
